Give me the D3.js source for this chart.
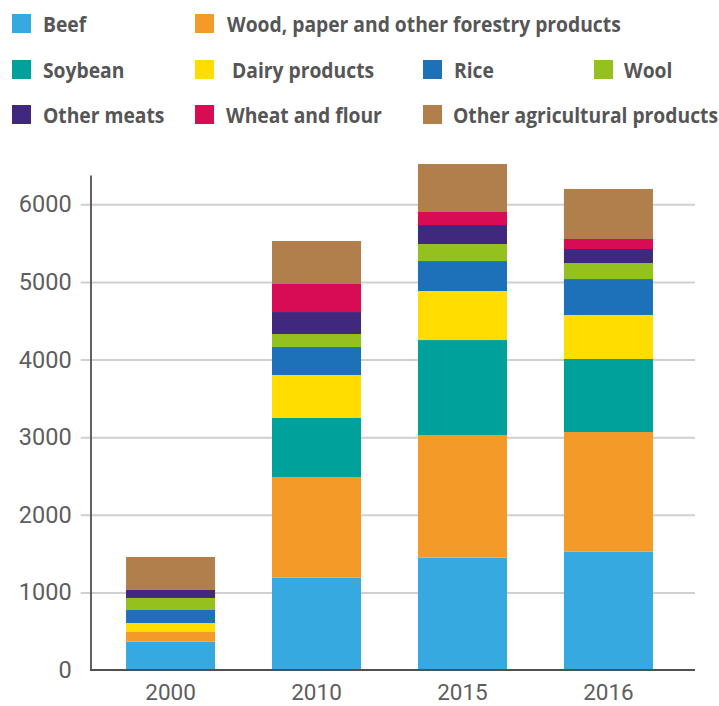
<!DOCTYPE html>
<html>
<head>
<meta charset="utf-8">
<script src="https://cdn.jsdelivr.net/npm/d3@7"></script>
<style>
  html, body { margin: 0; padding: 0; background: #fff; }
  svg { display: block; }
</style>
</head>
<body>
<svg id="chart" width="719" height="706"></svg>
<script>
// Export values by year, stacked bottom to top in series order.
const years = ["2000", "2010", "2015", "2016"];
const seriesNames = [
  "Beef",
  "Wood, paper and other forestry products",
  "Soybean",
  "Dairy products",
  "Rice",
  "Wool",
  "Other meats",
  "Wheat and flour",
  "Other agricultural products"
];
const beef     = [365, 1189, 1447, 1524];
const wood     = [125, 1297, 1581, 1542];
const soybean  = [0, 761, 1223, 941];
const dairy    = [116, 554, 632, 567];
const rice     = [167, 360, 386, 463];
const wool     = [155, 168, 219, 206];
const otherMeats = [103, 283, 245, 181];
const wheat    = [0, 361, 168, 129];
const otherAg  = [425, 554, 618, 644];
const yTicks = [0, 1000, 2000, 3000, 4000, 5000, 6000];

const seriesValues = [beef, wood, soybean, dairy, rice, wool, otherMeats, wheat, otherAg];
const colors = ["#36a9e1", "#f39a29", "#00a19a", "#ffdd00", "#1d71b8",
                "#95c11f", "#40287f", "#d70c54", "#b07f4b"];

// Rows for d3.stack
const rows = years.map((yr, i) => {
  const r = { year: yr };
  seriesNames.forEach((s, j) => { r[s] = seriesValues[j][i]; });
  return r;
});

const svg = d3.select("#chart");

const plotLeft = 91, plotRight = 695, gridLeft = 80.7;
const x = d3.scaleBand()
  .domain(years)
  .range([plotLeft, 688])
  .paddingInner(0.39)
  .paddingOuter(0.24);

const y = d3.scaleLinear()
  .domain([0, 6000])
  .range([670, 204.3]);

const color = d3.scaleOrdinal().domain(seriesNames).range(colors);

const tickFont = "Roboto, 'Liberation Sans', sans-serif";

// Gridlines and y tick labels
const yAxis = d3.axisLeft(y)
  .tickValues(yTicks)
  .tickFormat(d3.format("d"))
  .tickSize(-(plotRight - gridLeft))
  .tickPadding(9);

const gy = svg.append("g")
  .attr("transform", `translate(${gridLeft},0)`)
  .call(yAxis);
gy.select(".domain").remove();
gy.selectAll(".tick line")
  .attr("stroke", "#d0d0d0")
  .attr("stroke-width", 2)
  .filter(d => d === 0).remove();
gy.selectAll(".tick text")
  .attr("fill", "#5e5e5e")
  .style("font-family", tickFont)
  .style("font-size", "23.5px");

// Stacked bars
const stacked = d3.stack().keys(seriesNames)(rows);
svg.append("g")
  .selectAll("g")
  .data(stacked)
  .join("g")
  .attr("fill", d => color(d.key))
  .selectAll("rect")
  .data(d => d)
  .join("rect")
  .attr("x", d => x(d.data.year))
  .attr("width", x.bandwidth())
  .attr("y", d => y(d[1]))
  .attr("height", d => y(d[0]) - y(d[1]));

// Axis lines
svg.append("line")
  .attr("x1", plotLeft).attr("x2", plotLeft)
  .attr("y1", y(6370)).attr("y2", y(0) + 1)
  .attr("stroke", "#505050").attr("stroke-width", 1.8);
svg.append("line")
  .attr("x1", plotLeft - 0.9).attr("x2", plotRight)
  .attr("y1", y(0)).attr("y2", y(0))
  .attr("stroke", "#505050").attr("stroke-width", 1.8);

// X labels
const xAxis = d3.axisBottom(x).tickSize(0).tickPadding(0);
const gx = svg.append("g")
  .attr("transform", `translate(0,${y(0)})`)
  .call(xAxis);
gx.select(".domain").remove();
gx.selectAll(".tick text")
  .attr("dy", null)
  .attr("y", 30)
  .attr("fill", "#5e5e5e")
  .style("font-family", tickFont)
  .style("font-size", "22.5px");

// Legend
const legendLayout = [
  { col: 12,  row: 14,  tx: 43 },
  { col: 195, row: 14,  tx: 227 },
  { col: 12,  row: 60,  tx: 43 },
  { col: 195, row: 60,  tx: 232 },
  { col: 423, row: 60,  tx: 454 },
  { col: 594, row: 60,  tx: 624 },
  { col: 12,  row: 105, tx: 43 },
  { col: 195, row: 105, tx: 226 },
  { col: 423, row: 105, tx: 453 }
];
const legend = svg.append("g");
const items = legend.selectAll("g")
  .data(seriesNames)
  .join("g");
items.append("rect")
  .attr("x", (d, i) => legendLayout[i].col)
  .attr("y", (d, i) => legendLayout[i].row)
  .attr("width", 19).attr("height", 19)
  .attr("fill", d => color(d));
const labels = items.append("text")
  .text(d => d)
  .attr("fill", "#565656")
  .style("font-family", "'Open Sans', 'Noto Sans', sans-serif")
  .style("font-weight", 700)
  .style("font-size", "22px");

// The legend face is a condensed bold; narrow the glyphs uniformly.
const longest = labels.filter((d, i) => i === 1).node().getComputedTextLength();
const squeeze = 394 / longest;
labels.attr("transform", (d, i) =>
  `translate(${legendLayout[i].tx},${legendLayout[i].row + 18}) scale(${squeeze},1)`);
</script>
</body>
</html>
